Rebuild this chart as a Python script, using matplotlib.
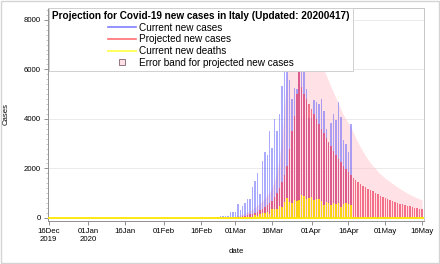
import numpy as np
import pandas as pd
import matplotlib.pyplot as plt
from matplotlib.lines import Line2D
from matplotlib.patches import Rectangle

plt.rcParams['font.family'] = ['Liberation Sans', 'DejaVu Sans']

# observed daily numbers, plotted from 22Feb2020 to 17Apr2020
case_start = '2020-02-22'
new_cases = [20, 59, 71, 79, 93, 78, 250, 238, 240,
             566, 342, 466, 587, 769, 778, 1247, 1492, 1797, 977,
             2313, 2651, 2547, 3497, 2823, 4000, 3526, 4207, 5322, 5986,
             6557, 5560, 4789, 5249, 5210, 6153, 5959, 5974, 5217, 4050, 4053,
             4782, 4668, 4585, 4805, 4316, 3599, 3039, 3836, 4204, 3951,
             4694, 4092, 3153, 2972, 2667, 3786]
new_deaths = [1, 1, 1, 4, 4, 1, 5, 4, 8,
              5, 18, 27, 28, 41, 49, 36, 133, 97, 168,
              196, 189, 250, 175, 368, 349, 345, 475, 427, 627,
              793, 651, 601, 743, 683, 712, 919, 889, 756, 812, 837,
              727, 760, 766, 681, 525, 636, 604, 542, 610, 570,
              619, 431, 566, 602, 578, 525]

# projection, 01Mar2020 to 16May2020
proj_start = '2020-03-01'
proj_cases = [40, 50, 60, 80, 100, 120, 150, 180, 220, 260, 310, 370, 440, 520, 610,
              700, 850, 1000, 1200, 1450, 1750, 2100, 2800, 3500, 4100, 5000, 6050,
              5300, 5000, 4800, 4600,
              4400, 4200, 4000, 3800, 3600, 3420, 3240, 3060, 2890, 2720,
              2560, 2400, 2250, 2100, 1970, 1840, 1720, 1620, 1530, 1450,
              1380, 1310, 1250, 1190, 1130, 1070, 1010, 955, 905, 855,
              810, 765, 725, 685, 650, 615, 580, 550, 520, 490,
              465, 440, 415, 395, 370, 350]
band_upper = [80, 100, 130, 160, 200, 250, 300, 360, 430, 510, 600, 700, 800, 920, 1050,
              1250, 1500, 1900, 2500, 3300, 4500, 5900, 6000, 6000, 6000, 6000, 6000,
              6000, 6000, 6000, 6000,
              6000, 6000, 6000, 6000, 6000, 6000, 5760, 5520, 5280, 5050,
              4830, 4600, 4380, 4160, 3990, 3830, 3680, 3450, 3230, 3030,
              2840, 2670, 2510, 2360, 2220, 2100, 1990, 1880, 1780, 1690,
              1600, 1530, 1460, 1390, 1320, 1250, 1180, 1120, 1060, 1000,
              950, 900, 850, 810, 770, 730]

tick_dates = ['2019-12-16', '2020-01-01', '2020-01-16', '2020-02-01', '2020-02-16',
              '2020-03-01', '2020-03-16', '2020-04-01', '2020-04-16', '2020-05-01', '2020-05-16']
tick_labels = ['16Dec\n2019', '01Jan\n2020', '16Jan', '01Feb', '16Feb',
               '01Mar', '16Mar', '01Apr', '16Apr', '01May', '16May']

case_dates = pd.date_range(case_start, periods=len(new_cases))
proj_dates = pd.date_range(proj_start, periods=len(proj_cases))

fig = plt.figure(figsize=(4.4, 2.64), dpi=100)
ax = fig.add_axes([0.108, 0.163, 0.856, 0.807])

ax.fill_between(proj_dates, 0, band_upper, color='#ffb6c1', alpha=0.4, lw=0, zorder=1)
ax.bar(case_dates, new_cases, width=0.6, color='#6464ff', alpha=0.55, zorder=2)
ax.bar(proj_dates, proj_cases, width=0.6, color='#f04060', alpha=0.7, zorder=3)
ax.bar(case_dates, new_deaths, width=0.6, color='#ffe800', alpha=0.85, zorder=4)
ax.axhline(0, color='#ffe800', lw=1.3, zorder=4)

ax.set_xlim(pd.Timestamp('2019-12-15 14:00'), pd.Timestamp('2020-05-16 20:00'))
ax.set_ylim(-120, 8480)
ax.set_xticks(pd.to_datetime(tick_dates))
ax.set_xticklabels(tick_labels)
ax.set_yticks([0, 2000, 4000, 6000, 8000])
ax.set_yticks(np.arange(0, 8401, 200), minor=True)
ax.tick_params(axis='both', labelsize=5.6, color='#808080', length=3, width=0.6, pad=2)
ax.tick_params(axis='y', which='minor', length=1.5, width=0.4, color='#a0a0a0')
ax.grid(axis='y', color='#e6e6e6', lw=0.6, zorder=0)
ax.set_axisbelow(True)
for s in ['left', 'bottom']:
    ax.spines[s].set_color('#909090')
for s in ['top', 'right']:
    ax.spines[s].set_color('#c8c8c8')
for s in ax.spines.values():
    s.set_linewidth(0.7)

ax.set_xlabel('date', fontsize=5.6, labelpad=4)
ax.set_ylabel('Cases', fontsize=5.6, labelpad=10)

handles = [Line2D([], [], color='#8080ff', lw=1.2),
           Line2D([], [], color='#ff7070', lw=1.2),
           Line2D([], [], color='#ffff40', lw=1.2),
           Line2D([], [], ls='none', marker='s', markersize=4.5,
                  markerfacecolor='#ffe0e6', markeredgecolor='#806070', markeredgewidth=0.6)]
labels = ['Current new cases', 'Projected new cases', 'Current new deaths',
          'Error band for projected new cases']
leg = ax.legend(handles, labels, loc='upper left', bbox_to_anchor=(0.004, 1.0),
                title='Projection for Covid-19 new cases in Italy (Updated: 20200417)',
                title_fontproperties={'weight': 'bold', 'size': 7.2},
                fontsize=7.2, alignment='center', handlelength=2.8, handletextpad=0.3,
                labelspacing=0.17, borderpad=0.3, borderaxespad=0, fancybox=False,
                framealpha=1, edgecolor='#d0d0d0')
leg.get_frame().set_linewidth(0.7)
leg.set_zorder(10)

fig.patches.append(Rectangle((0.002, 0.004), 0.996, 0.992, transform=fig.transFigure,
                             fill=False, edgecolor='#d4d4d4', lw=1))

fig.savefig('out.png', dpi=100)
